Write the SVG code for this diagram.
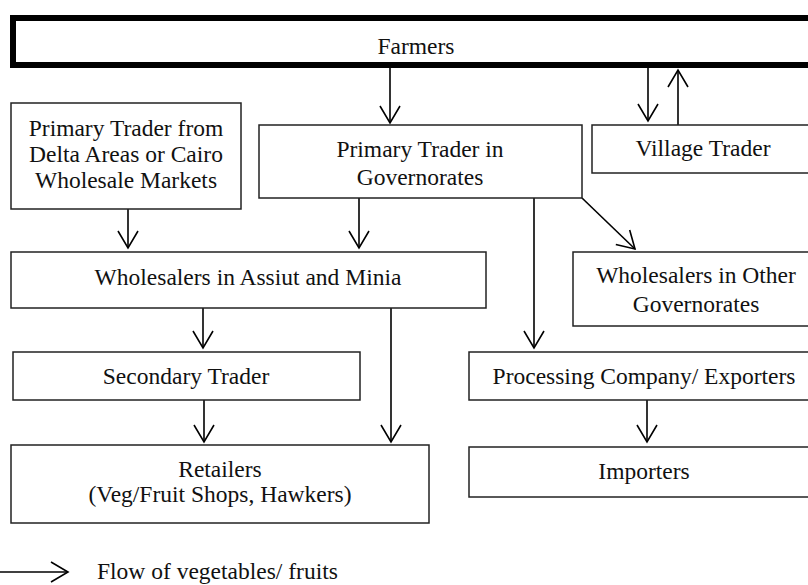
<svg xmlns="http://www.w3.org/2000/svg" width="808" height="585" viewBox="0 0 808 585">
  <style>
    .box { fill: #ffffff; stroke: #222222; stroke-width: 1.5; }
    .thick { fill: #ffffff; stroke: #000000; stroke-width: 6; }
    .lbl { font-family: "Liberation Serif", "Times New Roman", serif; font-size: 23.5px; fill: #111111; text-anchor: middle; }
    .legend { font-family: "Liberation Serif", "Times New Roman", serif; font-size: 23.5px; fill: #111111; }
    .flow { fill: none; stroke: #000000; stroke-width: 1.6; marker-end: url(#head); }
  </style>
  <defs>
    <marker id="head" markerUnits="userSpaceOnUse" viewBox="-19 -12 21 24" refX="0" refY="0" markerWidth="21" markerHeight="24" orient="auto">
      <path d="M-17,-10 L0,0 L-17,10" fill="none" stroke="#000000" stroke-width="1.6"/>
    </marker>
  </defs>

  <rect width="808" height="585" fill="#ffffff"/>

  <g id="connectors">
    <!-- Farmers to Primary Trader in Governorates -->
    <line class="flow" x1="390" y1="68" x2="390" y2="123"/>
    <!-- Farmers to Village Trader and back -->
    <line class="flow" x1="648" y1="68" x2="648" y2="121"/>
    <line class="flow" x1="678" y1="125" x2="678" y2="70"/>
    <!-- Primary traders to Wholesalers in Assiut and Minia -->
    <line class="flow" x1="128" y1="209" x2="128" y2="248"/>
    <line class="flow" x1="359" y1="198" x2="359" y2="248"/>
    <!-- Primary Trader in Governorates to other buyers -->
    <line class="flow" x1="582" y1="198" x2="635" y2="249"/>
    <line class="flow" x1="534" y1="198" x2="534" y2="348"/>
    <!-- Wholesalers in Assiut and Minia downstream -->
    <line class="flow" x1="203" y1="308" x2="203" y2="348"/>
    <line class="flow" x1="391" y1="308" x2="391" y2="442"/>
    <!-- Secondary Trader to Retailers -->
    <line class="flow" x1="204" y1="400" x2="204" y2="442"/>
    <!-- Processing Company to Importers -->
    <line class="flow" x1="647" y1="400" x2="647" y2="442"/>
  </g>

  <g id="farmers">
    <rect class="thick" x="13" y="18" width="806" height="47"/>
    <text class="lbl" x="416" y="54">Farmers</text>
  </g>

  <g id="primary-trader-delta">
    <rect class="box" x="11" y="103" width="230" height="106"/>
    <text class="lbl" x="126" y="136">Primary Trader from</text>
    <text class="lbl" x="126" y="162">Delta Areas or Cairo</text>
    <text class="lbl" x="126" y="188">Wholesale Markets</text>
  </g>

  <g id="primary-trader-governorates">
    <rect class="box" x="259" y="125" width="323" height="73"/>
    <text class="lbl" x="420" y="157">Primary Trader in</text>
    <text class="lbl" x="420" y="185">Governorates</text>
  </g>

  <g id="village-trader">
    <rect class="box" x="592" y="125" width="222" height="48"/>
    <text class="lbl" x="703" y="156">Village Trader</text>
  </g>

  <g id="wholesalers-assiut-minia">
    <rect class="box" x="11" y="252" width="475" height="56"/>
    <text class="lbl" x="248" y="285">Wholesalers in Assiut and Minia</text>
  </g>

  <g id="wholesalers-other-governorates">
    <rect class="box" x="573" y="252" width="247" height="74"/>
    <text class="lbl" x="696" y="283">Wholesalers in Other</text>
    <text class="lbl" x="696" y="312">Governorates</text>
  </g>

  <g id="secondary-trader">
    <rect class="box" x="13" y="352" width="347" height="48"/>
    <text class="lbl" x="186" y="384">Secondary Trader</text>
  </g>

  <g id="processing-exporters">
    <rect class="box" x="469" y="352" width="350" height="48"/>
    <text class="lbl" x="644" y="384">Processing Company/ Exporters</text>
  </g>

  <g id="retailers">
    <rect class="box" x="11" y="445" width="418" height="78"/>
    <text class="lbl" x="220" y="477">Retailers</text>
    <text class="lbl" x="220" y="502">(Veg/Fruit Shops, Hawkers)</text>
  </g>

  <g id="importers">
    <rect class="box" x="469" y="447" width="350" height="50"/>
    <text class="lbl" x="644" y="479">Importers</text>
  </g>

  <g id="legend">
    <line class="flow" x1="0" y1="572" x2="68" y2="572"/>
    <text class="legend" x="97" y="579">Flow of vegetables/ fruits</text>
  </g>
</svg>
